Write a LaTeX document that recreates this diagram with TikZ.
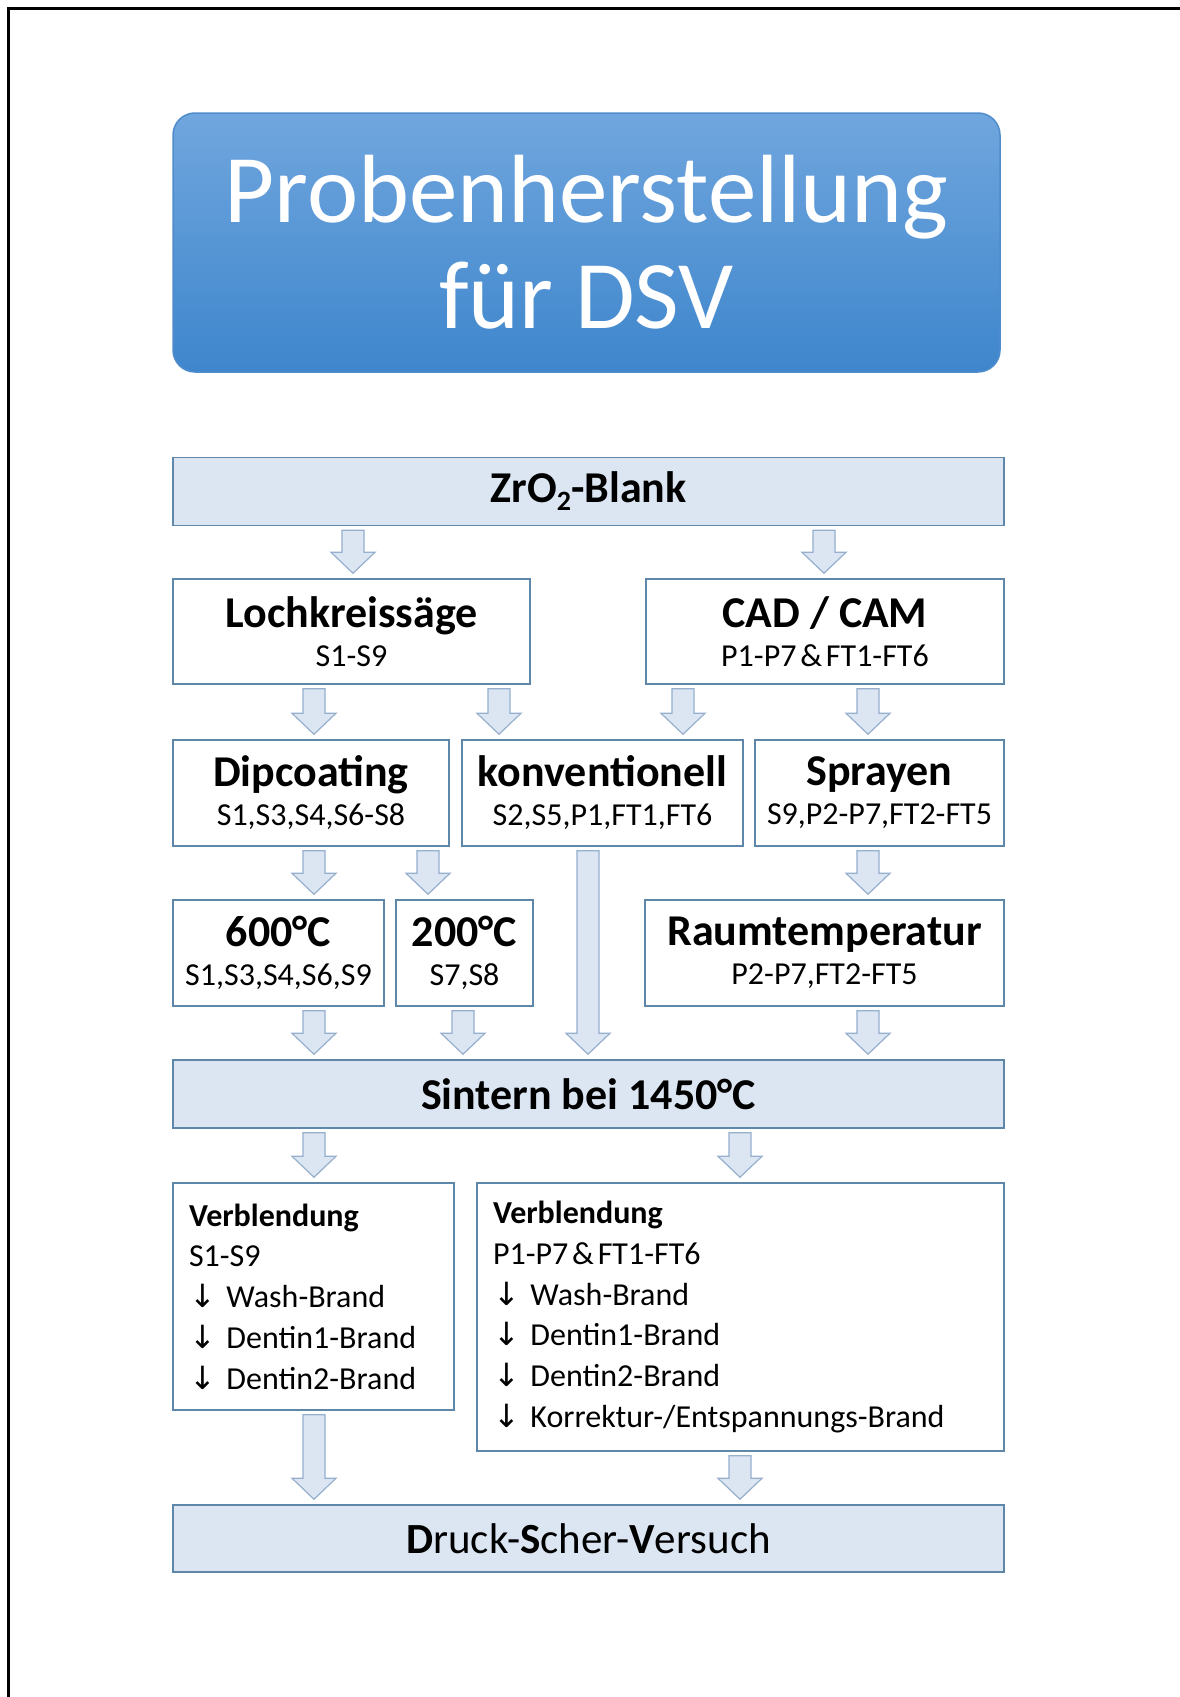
\documentclass[tikz,border=0pt]{standalone}
\usepackage{fontspec}
\setmainfont{Carlito}
\newfontfamily\symfont{DejaVu Sans}
\usetikzlibrary{calc}

\definecolor{boxfill}{RGB}{220,230,242}
\definecolor{boxline}{RGB}{95,135,170}
\definecolor{arrfill}{RGB}{220,230,242}
\definecolor{arrline}{RGB}{150,175,205}
\definecolor{titletop}{RGB}{112,166,222}
\definecolor{titlebot}{RGB}{62,134,204}
\definecolor{titleline}{RGB}{80,140,204}

\newcommand\dn{{\symfont ↓}\ }
\newcommand\amp{\hspace{0.12em}\&\hspace{0.12em}}
\newcommand\sub[1]{{\fontsize{32}{39}\selectfont #1}}

% block arrow from the bottom of node #1 to the top of node #2 at x = #3
\newcommand\blkarrow[3]{%
  \filldraw[blockarrow] let \p1=(#1.south), \p2=(#2.north) in
    (#3pt-11pt,\y1-4pt) -- (#3pt+11pt,\y1-4pt) -- (#3pt+11pt,\y2+26pt)
    -- (#3pt+22pt,\y2+26pt) -- (#3pt,\y2+5pt) -- (#3pt-22pt,\y2+26pt)
    -- (#3pt-11pt,\y2+26pt) -- cycle;}

\tikzset{
  stage/.style={draw=boxline, line width=1.5pt, fill=white, inner sep=0pt,
    align=center, font=\fontsize{44}{39}\selectfont},
  band/.style={stage, fill=boxfill, minimum width=831pt, minimum height=68pt},
  verbl/.style={draw=boxline, line width=1.5pt, fill=white, inner xsep=16pt,
    inner ysep=0pt, align=left, font=\fontsize{32}{40.8}\selectfont},
  blockarrow/.style={fill=arrfill, draw=arrline, line width=1.2pt, line join=miter},
  titlebox/.style={rounded corners=22pt, top color=titletop, bottom color=titlebot,
    draw=titleline, line width=1.5pt, text=white, align=center,
    minimum width=827pt, minimum height=259pt, inner sep=0pt,
    font=\fontsize{97}{106}\selectfont},
}

\begin{document}
\begin{tikzpicture}[x=1pt, y=-1pt]
\useasboundingbox (0,0) rectangle (1180,1697);
\fill[white] (0,0) rectangle (1180,1697);
% page frame
\draw[line width=3pt, line join=miter] (8,1697) -- (8,8.5) -- (1180,8.5);

% title
\node[titlebox] (title) at (586.5,242.5) {Probenherstellung\\für DSV};

% stages
\node[band] (zro) at (588.5,491.5)
  {\textbf{ZrO\raisebox{-8pt}{\fontsize{28}{28}\selectfont 2}-Blank}};

\node[stage, minimum width=357pt, minimum height=105pt] (loch) at (351.5,631.5)
  {\textbf{Lochkreissäge}\\\sub{S1-S9}};
\node[stage, minimum width=358pt, minimum height=105pt] (cad) at (825,631.5)
  {\textbf{CAD / CAM}\\\sub{P1-P7\amp FT1-FT6}};

\node[stage, minimum width=276pt, minimum height=106pt] (dip) at (311,793)
  {\textbf{Dipcoating}\\\sub{S1,S3,S4,S6-S8}};
\node[stage, minimum width=281pt, minimum height=106pt] (konv) at (602.5,793)
  {\textbf{konventionell}\\\sub{S2,S5,P1,FT1,FT6}};
\node[stage, minimum width=249pt, minimum height=106pt] (spray) at (879.5,793)
  {\textbf{Sprayen}\\\sub{S9,P2-P7,FT2-FT5}};

\node[stage, minimum width=211pt, minimum height=106pt] (c600) at (278.5,953)
  {\textbf{600°C}\\\sub{S1,S3,S4,S6,S9}};
\node[stage, minimum width=137pt, minimum height=106pt] (c200) at (464.5,953)
  {\textbf{200°C}\\\sub{S7,S8}};
\node[stage, minimum width=359pt, minimum height=106pt] (raum) at (824.5,953)
  {\textbf{Raumtemperatur}\\\sub{P2-P7,FT2-FT5}};

\node[band] (sint) at (588.5,1094) {\textbf{Sintern bei 1450°C}};

\node[verbl, minimum width=281pt, minimum height=227pt, text width=249pt] (verbL)
  at (313.5,1296.5)
  {\textbf{Verblendung}\\S1-S9\\\dn Wash-Brand\\\dn Dentin1-Brand\\\dn Dentin2-Brand};
\node[verbl, minimum width=527pt, minimum height=268pt, text width=495pt] (verbR)
  at (740.5,1317)
  {\textbf{Verblendung}\\P1-P7\amp FT1-FT6\\\dn Wash-Brand\\\dn Dentin1-Brand\\\dn Dentin2-Brand\\\dn Korrektur-/Entspannungs-Brand};

\node[band, minimum height=67pt, font=\fontsize{43}{43}\selectfont] (druck) at (588.5,1538.5)
  {\textbf{D}ruck-\textbf{S}cher-\textbf{V}ersuch};

% flow arrows
\blkarrow{zro}{loch}{353}
\blkarrow{zro}{cad}{824}
\blkarrow{loch}{dip}{314}
\blkarrow{loch}{konv}{499}
\blkarrow{cad}{konv}{683}
\blkarrow{cad}{spray}{868}
\blkarrow{dip}{c600}{314}
\blkarrow{dip}{c200}{428}
\blkarrow{spray}{raum}{868}
\blkarrow{konv}{sint}{588}
\blkarrow{c600}{sint}{314}
\blkarrow{c200}{sint}{463}
\blkarrow{raum}{sint}{868}
\blkarrow{sint}{verbL}{314}
\blkarrow{sint}{verbR}{740}
\blkarrow{verbL}{druck}{314}
\blkarrow{verbR}{druck}{740}
\end{tikzpicture}
\end{document}
